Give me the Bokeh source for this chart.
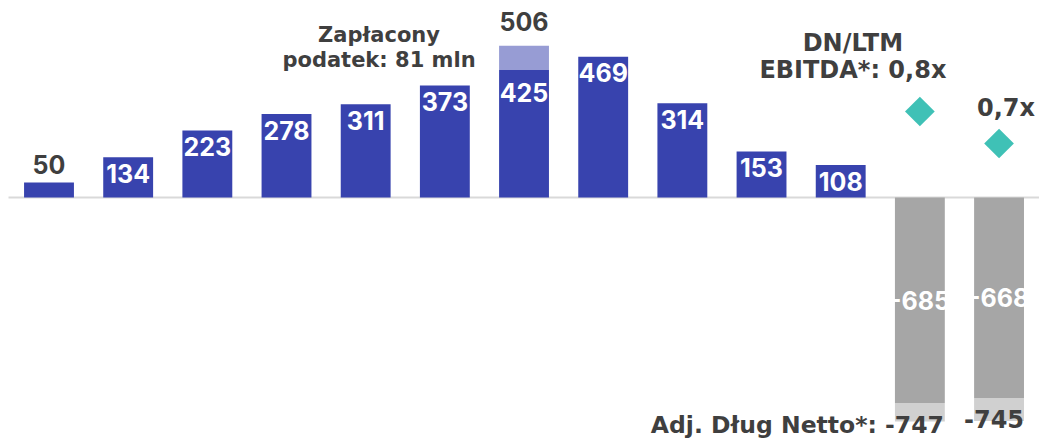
import math
from bokeh.plotting import figure
from bokeh.models import Range1d, ColumnDataSource
from bokeh.core.properties import value
from bokeh.embed import file_html
from bokeh.resources import INLINE

# ---------------- data ----------------
periods = ["P1", "P2", "P3", "P4", "P5", "P6", "P7", "P8", "P9", "P10", "P11", "P12", "P13"]
profit = [50, 134, 223, 278, 311, 373, 425, 469, 314, 153, 108]          # blue bars, periods 1-11
tax_paid = 81                                                              # extra on period 7
tax_period = 6
net_debt = [-685, -668]                                                    # periods 12-13
adj_net_debt = [-747, -745]
debt_periods = [11, 12]
ratio = [0.8, 0.7]                                                         # DN / LTM EBITDA
note_tax = ["Zapłacony", "podatek: 81 mln"]
note_ratio = ["DN/LTM", "EBITDA*: 0,8x"]
ratio_label_2 = "0,7x"
adj_label = "Adj. Dług Netto*: -747"

# ---------------- styles ----------------
BLUE = "#3843ae"
LIGHT_BLUE = "#979cd4"
GRAY = "#a6a6a6"
LIGHT_GRAY = "#d0d0d0"
TEAL = "#3fc1b6"
DARK = "#3f3f3f"
NUM_FONT = value("Inter")
TXT_FONT = value("DejaVu Sans")
BW = 0.63

p = figure(width=1039, height=438, output_backend="svg", toolbar_location=None,
           x_range=Range1d(-0.6126, 12.511), y_range=Range1d(-803.3, 656.7),
           x_axis_location=None, y_axis_location=None, min_border=0)
p.extra_y_ranges = {"ratio": Range1d(-0.2219, 1.1469)}
p.outline_line_color = None
p.grid.visible = False
p.background_fill_color = "white"

# zero line
p.segment(x0=[-0.5115], x1=[len(periods) - 0.49], y0=[0], y1=[0], line_color="#d9d9d9", line_width=2)

idx = list(range(len(profit)))
src = ColumnDataSource(dict(x=idx, top=profit))
p.vbar(x="x", top="top", bottom=0, width=BW, source=src, fill_color=BLUE, line_color=None)

tax_total = profit[tax_period] + tax_paid
p.vbar(x=[tax_period], bottom=[profit[tax_period]], top=[tax_total], width=BW,
       fill_color=LIGHT_BLUE, line_color=None)

p.vbar(x=debt_periods, top=0, bottom=net_debt, width=BW, fill_color=GRAY, line_color=None)
p.vbar(x=debt_periods, top=net_debt, bottom=adj_net_debt, width=BW, fill_color=LIGHT_GRAY, line_color=None)

p.scatter(x=debt_periods, y=ratio, marker="square", size=21, angle=math.pi / 4,
          fill_color=TEAL, line_color=None, y_range_name="ratio")

# labels inside blue bars
ins_x = [i for i, v in enumerate(profit) if v >= 100 and i != tax_period]
ins_v = [profit[i] for i in ins_x]
p.text(x=ins_x, y=ins_v, text=[str(v) for v in ins_v], text_align="center", text_baseline="alphabetic",
       y_offset=16, text_color="white", text_font=NUM_FONT, text_font_style="bold", text_font_size="25px")
p.text(x=[tax_period], y=[profit[tax_period]], text=[str(profit[tax_period])], text_align="center",
       text_baseline="alphabetic", y_offset=22, text_color="white", text_font=NUM_FONT,
       text_font_style="bold", text_font_size="25px")
# small bar label above
out_x = [i for i, v in enumerate(profit) if v < 100]
out_v = [profit[i] for i in out_x]
p.text(x=out_x, y=out_v, text=[str(v) for v in out_v], text_align="center", text_baseline="alphabetic",
       y_offset=-18, text_color=DARK, text_font=NUM_FONT, text_font_style="bold", text_font_size="25px")
# total above stacked bar
p.text(x=[tax_period], y=[tax_total], text=[str(tax_total)], text_align="center", text_baseline="alphabetic",
       y_offset=-24, text_color=DARK, text_font=NUM_FONT, text_font_style="bold", text_font_size="25px")
# tax note
for line, off in zip(note_tax, [-11, 14]):
    p.text(x=[tax_period], y=[tax_total], text=[line], text_align="center", text_baseline="alphabetic",
           x_offset=-145, y_offset=off, text_color=DARK, text_font=TXT_FONT, text_font_style="bold",
           text_font_size="21px")

# net debt labels
p.text(x=debt_periods, y=[v / 2 for v in net_debt], text=[str(v) for v in net_debt], text_align="center",
       text_baseline="middle", text_color="white", text_font=NUM_FONT, text_font_style="bold",
       text_font_size="25px")
p.text(x=[debt_periods[0]], y=[adj_net_debt[0]], text=[adj_label], text_align="right",
       text_baseline="alphabetic", x_offset=24, y_offset=3, text_color=DARK, text_font=TXT_FONT,
       text_font_style="bold", text_font_size="23.5px")
p.text(x=[debt_periods[1]], y=[adj_net_debt[1]], text=[str(adj_net_debt[1])], text_align="center",
       text_baseline="alphabetic", x_offset=-5, y_offset=-2, text_color=DARK, text_font=TXT_FONT,
       text_font_style="bold", text_font_size="24px")

# ratio labels
for line, off in zip(note_ratio, [-69, -42]):
    p.text(x=[debt_periods[0]], y=[ratio[0]], text=[line], text_align="center", text_baseline="alphabetic",
           x_offset=-67, y_offset=off, text_color=DARK, text_font=TXT_FONT, text_font_style="bold",
           text_font_size="24px", y_range_name="ratio")
p.text(x=[debt_periods[1]], y=[ratio[1]], text=[ratio_label_2], text_align="center", text_baseline="alphabetic",
       x_offset=7, y_offset=-36, text_color=DARK, text_font=TXT_FONT, text_font_style="bold",
       text_font_size="24px", y_range_name="ratio")

open("out.html", "w").write(file_html(p, INLINE))
